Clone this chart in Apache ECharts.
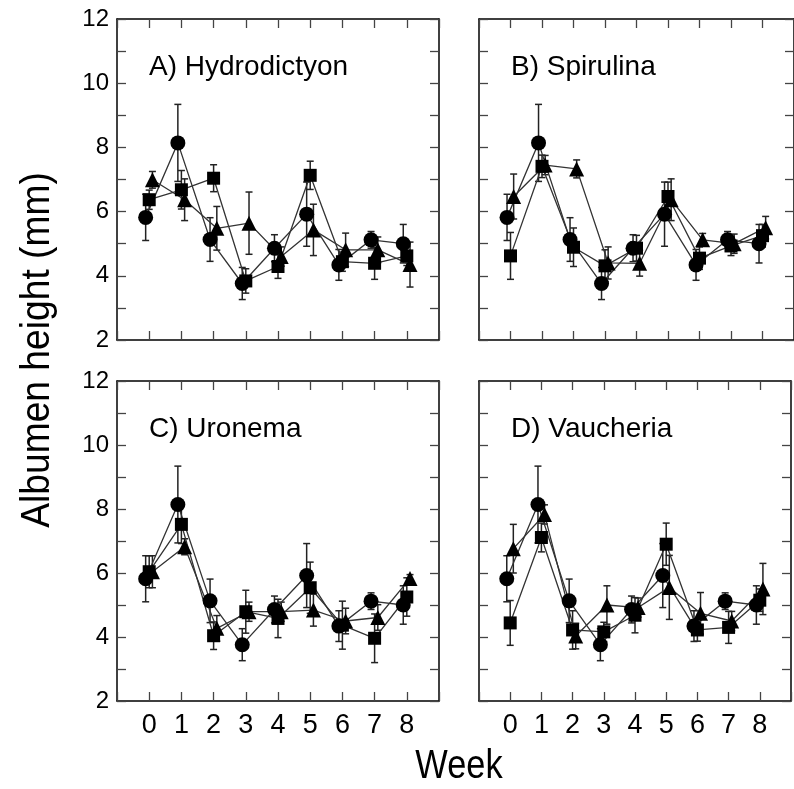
<!DOCTYPE html>
<html>
<head>
<meta charset="utf-8">
<script src="https://cdn.jsdelivr.net/npm/echarts@6/dist/echarts.min.js"></script>
<style>
  html, body { margin: 0; padding: 0; background: #fff; }
  #chart { width: 794px; height: 789px; }
</style>
</head>
<body>
<div id="chart"></div>
<script>
// weeks on the x axis
var weeks = [0, 1, 2, 3, 4, 5, 6, 7, 8];
var panelNames = ['A) Hydrodictyon', 'B) Spirulina', 'C) Uronema', 'D) Vaucheria'];

// circles (same group in every panel)
var ctrlMean = [5.82, 8.14, 5.13, 3.76, 4.86, 5.92, 4.34, 5.12, 5.0];
var ctrlSE   = [0.72, 1.2, 0.68, 0.5, 0.42, 1.0, 0.48, 0.26, 0.6];

// squares
var hydroSqMean = [6.37, 6.68, 7.04, 3.84, 4.29, 7.13, 4.44, 4.39, 4.62];
var hydroSqSE   = [0.3, 0.6, 0.42, 0.38, 0.37, 0.44, 0.3, 0.5, 0.3];
var spiruSqMean = [4.62, 7.41, 4.89, 4.31, 4.86, 6.47, 4.55, 4.93, 5.25];
var spiruSqSE   = [0.73, 0.35, 0.6, 0.5, 0.4, 0.45, 0.35, 0.3, 0.35];
var uroSqMean   = [6.04, 7.52, 4.04, 4.79, 4.58, 5.54, 4.37, 3.96, 5.25];
var uroSqSE     = [0.5, 0.6, 0.43, 0.67, 0.6, 0.8, 0.75, 0.76, 0.6];
var vauSqMean   = [4.44, 7.11, 4.22, 4.16, 4.68, 6.9, 4.22, 4.3, 5.15];
var vauSqSE     = [0.7, 0.45, 0.6, 0.3, 0.55, 0.66, 0.35, 0.5, 0.35];

// triangles
var hydroTriMean = [6.99, 6.37, 5.48, 5.64, 4.6, 5.43, 4.81, 4.81, 4.35];
var hydroTriSE   = [0.26, 0.65, 0.68, 0.97, 0.3, 0.8, 0.52, 0.4, 0.7];
var spiruTriMean = [6.47, 7.45, 7.33, 4.4, 4.39, 6.37, 5.12, 5.0, 5.5];
var spiruTriSE   = [0.7, 0.3, 0.28, 0.5, 0.4, 0.65, 0.2, 0.3, 0.35];
var uroTriMean   = [6.04, 6.82, 4.27, 4.79, 4.79, 4.84, 4.5, 4.61, 5.83];
var uroTriSE     = [0.5, 0.25, 0.4, 0.3, 0.3, 0.5, 0.4, 0.4, 0.12];
var vauTriMean   = [6.76, 7.83, 4.03, 5.0, 4.92, 5.55, 4.74, 4.5, 5.5];
var vauTriSE     = [0.76, 0.3, 0.4, 0.6, 0.3, 1.0, 0.65, 0.3, 0.8];

var yTicks = [2, 4, 6, 8, 10, 12];

var panels = [
    {sq: [hydroSqMean, hydroSqSE], tri: [hydroTriMean, hydroTriSE]},
    {sq: [spiruSqMean, spiruSqSE], tri: [spiruTriMean, spiruTriSE]},
    {sq: [uroSqMean, uroSqSE], tri: [uroTriMean, uroTriSE]},
    {sq: [vauSqMean, vauSqSE], tri: [vauTriMean, vauTriSE]}
];

var font = "'Liberation Sans', Arial, sans-serif";

var gridPos = [
    {left: 117, top: 19, width: 322, height: 321},
    {left: 479, top: 19, width: 322, height: 321},
    {left: 117, top: 381, width: 322, height: 320},
    {left: 479, top: 381, width: 322, height: 320}
];

// small sideways shift so the three groups don't overlap
var groups = [
    {key: 'ctrl', shift: -0.11, symbol: 'circle', size: 15},
    {key: 'sq', shift: 0, symbol: 'rect', size: 13},
    {key: 'tri', shift: 0.1, symbol: 'triangle', size: 15}
];

function errBars(params, api) {
    var x = api.value(0), m = api.value(1), se = api.value(2);
    var lo = api.coord([x, m - se]), hi = api.coord([x, m + se]);
    var cap = 3.5;
    var st = {stroke: '#222', lineWidth: 1.5};
    return {
        type: 'group',
        children: [
            {type: 'line', shape: {x1: lo[0], y1: lo[1], x2: hi[0], y2: hi[1]}, style: st},
            {type: 'line', shape: {x1: lo[0] - cap, y1: lo[1], x2: lo[0] + cap, y2: lo[1]}, style: st},
            {type: 'line', shape: {x1: hi[0] - cap, y1: hi[1], x2: hi[0] + cap, y2: hi[1]}, style: st}
        ]
    };
}

var grid = [], xAxis = [], yAxis = [], series = [], title = [];

gridPos.forEach(function(g, i) {
    grid.push(g);
    var bottomRow = i >= 2, leftCol = i % 2 === 0;
    var axisLine = {show: true, onZero: false, lineStyle: {color: '#000', width: 1.5}};
    var axisTick = {show: true, inside: true, length: 9, lineStyle: {color: '#444', width: 1.3}};

    xAxis.push({
        type: 'value', gridIndex: i, min: -1, max: 9, interval: 1, position: 'bottom',
        axisLine: axisLine, axisTick: axisTick, splitLine: {show: false},
        axisLabel: {
            show: bottomRow, margin: 11, color: '#000', fontSize: 27, fontFamily: font,
            formatter: function(v) { return weeks.indexOf(v) >= 0 ? String(v) : ''; }
        }
    });
    xAxis.push({
        type: 'value', gridIndex: i, min: -1, max: 9, interval: 1, position: 'top',
        axisLine: axisLine, axisTick: axisTick, splitLine: {show: false}, axisLabel: {show: false}
    });
    yAxis.push({
        type: 'value', gridIndex: i, min: 2, max: 12, interval: 1, position: 'left',
        axisLine: axisLine, axisTick: axisTick, splitLine: {show: false},
        axisLabel: {
            show: leftCol, margin: 8, color: '#000', fontSize: 24, fontFamily: font,
            formatter: function(v) { return yTicks.indexOf(v) >= 0 ? String(v) : ''; }
        }
    });
    yAxis.push({
        type: 'value', gridIndex: i, min: 2, max: 12, interval: 1, position: 'right',
        axisLine: axisLine, axisTick: axisTick, splitLine: {show: false}, axisLabel: {show: false}
    });

    title.push({
        text: panelNames[i], left: g.left + 32, top: g.top + 34, padding: 0,
        textStyle: {fontSize: 28, fontWeight: 'normal', color: '#000', fontFamily: font}
    });

    groups.forEach(function(grp) {
        var mean, se;
        if (grp.key === 'ctrl') { mean = ctrlMean; se = ctrlSE; }
        else { mean = panels[i][grp.key][0]; se = panels[i][grp.key][1]; }
        var pts = weeks.map(function(w, k) { return [w + grp.shift, mean[k], se[k]]; });
        series.push({
            type: 'custom', xAxisIndex: 2 * i, yAxisIndex: 2 * i, renderItem: errBars,
            data: pts, z: 2, silent: true
        });
        series.push({
            type: 'line', xAxisIndex: 2 * i, yAxisIndex: 2 * i, data: pts,
            symbol: grp.symbol, symbolSize: grp.size, showAllSymbol: true,
            lineStyle: {color: '#333', width: 1.3},
            itemStyle: {color: '#000', borderWidth: 0},
            z: 3, animation: false, silent: true
        });
    });
});

var chart = echarts.init(document.getElementById('chart'));
chart.setOption({
    animation: false,
    backgroundColor: '#fff',
    title: title,
    grid: grid,
    xAxis: xAxis,
    yAxis: yAxis,
    series: series,
    graphic: [
        {type: 'text', x: 459, y: 767, scaleX: 0.86,
         style: {text: 'Week', fontSize: 40, fontFamily: font, fill: '#000', align: 'center', verticalAlign: 'middle'}},
        {type: 'text', x: 38, y: 350, rotation: Math.PI / 2, scaleX: 0.93,
         style: {text: 'Albumen height (mm)', fontSize: 40, fontFamily: font, fill: '#000', align: 'center', verticalAlign: 'middle'}}
    ]
});
</script>
</body>
</html>
